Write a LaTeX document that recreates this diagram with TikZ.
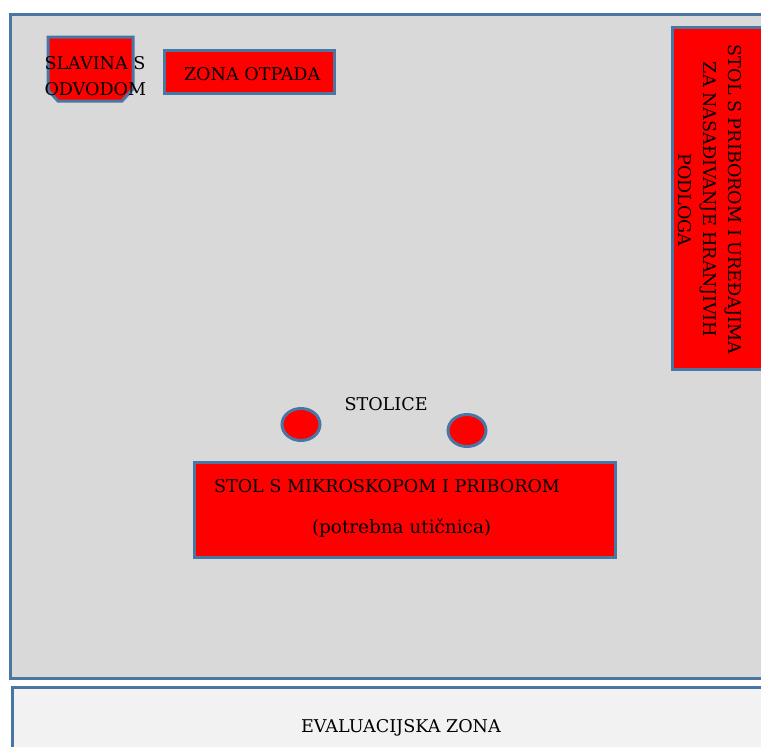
\documentclass[tikz,border=0pt]{standalone}
\usepackage{fontspec}
\setmainfont{DejaVu Serif}
\usetikzlibrary{shapes.geometric}
\definecolor{edgeblue}{HTML}{4A76A3}
\definecolor{roomgray}{HTML}{D9D9D9}
\definecolor{evalgray}{HTML}{F2F2F2}
\definecolor{zonered}{HTML}{FF0000}
\tikzset{
  x=1pt,y=-1pt,
  zone/.style={draw=edgeblue,line width=3pt,fill=zonered,inner sep=0pt,outer sep=0pt},
  room/.style={draw=edgeblue,line width=3pt,inner sep=0pt,outer sep=0pt},
  chair/.style={zone,ellipse},
  label/.style={font=\fontsize{17.6}{17.6}\selectfont,inner sep=0pt,outer sep=0pt,text=black,anchor=base west},
  vlabel/.style={font=\fontsize{17.6}{17.6}\selectfont,inner sep=0pt,outer sep=0pt,text=black,rotate=-90,anchor=base}
}
\begin{document}
\begin{tikzpicture}
\useasboundingbox (0,0) rectangle (761,747);
\clip (0,0) rectangle (761,747);
\node[room,fill=roomgray,minimum width=780pt,minimum height=664pt,anchor=north west] (prostor) at (10,14) {};
\node[room,fill=evalgray,minimum width=780pt,minimum height=100pt,anchor=north west] (evaluacija) at (12,687) {};
\node[zone,minimum width=170pt,minimum height=43pt,anchor=north west] (otpad) at (164,50) {};
\node[zone,minimum width=120pt,minimum height=342pt,anchor=north west] (stolpodloge) at (672,27) {};
\node[zone,minimum width=421pt,minimum height=95pt,anchor=north west] (stolmikro) at (194,462) {};
\node[chair,minimum width=38pt,minimum height=32pt] (stolica1) at (301,424.5) {};
\node[chair,minimum width=38pt,minimum height=32pt] (stolica2) at (467,430.5) {};
\draw[zone,line join=miter] (48,37) -- (133,37) -- (133,89) -- (122,101) -- (58,101) -- (48,90) -- cycle;
\node[label] (t1) at (44.5,69) {SLAVINA S};
\node[label] (t2) at (44.5,95.5) {ODVODOM};
\node[label] (t3) at (184,80) {ZONA OTPADA};
\node[label] (t4) at (344.5,410.5) {STOLICE};
\node[label] (t5) at (214,492) {STOL S MIKROSKOPOM I PRIBOROM};
\node[label,font=\fontsize{18.4}{18.4}\selectfont] (t6) at (312,533) {(potrebna utičnica)};
\node[label] (t7) at (301,732) {EVALUACIJSKA ZONA};
\node[vlabel] (v1) at (728.5,199.5) {STOL S PRIBOROM I UREĐAJIMA};
\node[vlabel] (v2) at (703.5,199.5) {ZA NASAĐIVANJE HRANJIVIH};
\node[vlabel] (v3) at (678.5,200) {PODLOGA};
\end{tikzpicture}
\end{document}
